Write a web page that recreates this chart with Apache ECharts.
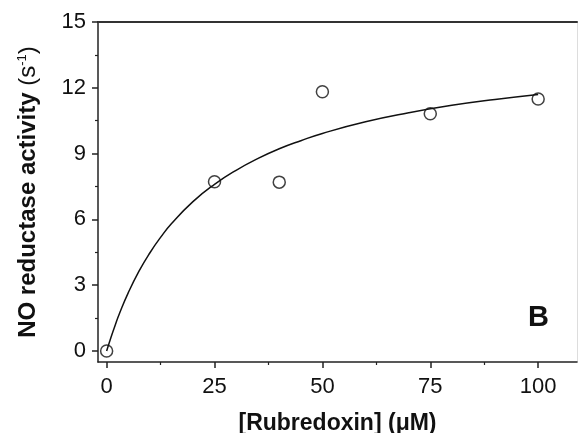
<!DOCTYPE html>
<html style="height: 100%">
<head>
    <meta charset="utf-8">
</head>
<body style="height: 100%; margin: 0; background: #fff">
<div id="container" style="width: 580px; height: 433px;"></div>

<script type="text/javascript" src="https://cdn.jsdelivr.net/npm/echarts@6/dist/echarts.min.js"></script>
<script type="text/javascript">
    // measured points
    var rubX = [0, 25, 40, 50, 75, 100];
    var activityY = [0, 7.72, 7.7, 11.82, 10.82, 11.49];

    // fitted curve
    var curveX = [0, 1, 2, 3, 5, 7.5, 10, 12.5, 15, 20, 25, 30, 35, 40, 45, 50, 60, 70, 80, 90, 100];
    var curveY = [0, 0.62, 1.19, 1.72, 2.65, 3.64, 4.47, 5.18, 5.8, 6.81, 7.6, 8.24, 8.77, 9.22, 9.59, 9.92, 10.45, 10.86, 11.2, 11.47, 11.7];

    var xMajor = [0, 25, 50, 75, 100];
    var xMinor = [12.5, 37.5, 62.5, 87.5];
    var yMajor = [0, 3, 6, 9, 12, 15];
    var yMinor = [1.5, 4.5, 7.5, 10.5, 13.5];

    var dom = document.getElementById("container");
    var myChart = echarts.init(dom);

    var font = 'Liberation Sans, Arial, sans-serif';
    var points = rubX.map(function (x, i) { return [x, activityY[i]]; });
    var curve = curveX.map(function (x, i) { return [x, curveY[i]]; });

    var option = {
        animation: false,
        grid: { left: 98, top: 22, right: 3, bottom: 71, containLabel: false, outerBoundsMode: 'none' },
        xAxis: [{
            type: 'value', min: -2, max: 109,
            splitLine: { show: false },
            axisLine: { onZero: false, lineStyle: { color: '#222', width: 1.5 } },
            axisTick: { length: 6, lineStyle: { color: '#222', width: 1.5 }, customValues: xMajor },
            axisLabel: { customValues: xMajor, fontSize: 22, color: '#111', fontFamily: font, margin: 14 },
            name: '[Rubredoxin] (\u03bcM)', nameLocation: 'middle', nameGap: 50,
            nameTextStyle: { fontSize: 23, fontWeight: 'bold', color: '#111', fontFamily: font }
        }, {
            type: 'value', min: -2, max: 109, position: 'bottom',
            splitLine: { show: false }, axisLine: { show: false, onZero: false },
            axisTick: { length: 3, lineStyle: { color: '#222', width: 1.2 }, customValues: xMinor },
            axisLabel: { show: false }
        }, {
            type: 'value', min: -2, max: 109, position: 'top',
            splitLine: { show: false },
            axisLine: { onZero: false, lineStyle: { color: '#333', width: 2 } },
            axisTick: { show: false }, axisLabel: { show: false }
        }],
        yAxis: [{
            type: 'value', min: -0.5, max: 15,
            splitLine: { show: false },
            axisLine: { onZero: false, lineStyle: { color: '#222', width: 1.5 } },
            axisTick: { length: 6, lineStyle: { color: '#222', width: 1.5 }, customValues: yMajor },
            axisLabel: { customValues: yMajor, fontSize: 22, color: '#111', fontFamily: font, margin: 12 },
            name: '{b|NO reductase activity }{r|(s}{sup|-1}{r|)}',
            nameLocation: 'middle', nameGap: 58, nameRotate: 90,
            nameTextStyle: {
                color: '#111', fontFamily: font,
                rich: {
                    b: { fontSize: 24, fontWeight: 'bold', fontFamily: font, color: '#111' },
                    r: { fontSize: 24, fontFamily: font, color: '#111' },
                    sup: { fontSize: 13, fontFamily: font, color: '#111', verticalAlign: 'top', padding: [0, 0, 10, 0] }
                }
            }
        }, {
            type: 'value', min: -0.5, max: 15, position: 'left',
            splitLine: { show: false }, axisLine: { show: false, onZero: false },
            axisTick: { length: 3, lineStyle: { color: '#222', width: 1.2 }, customValues: yMinor },
            axisLabel: { show: false }
        }, {
            type: 'value', min: -0.5, max: 15, position: 'right',
            splitLine: { show: false },
            axisLine: { onZero: false, lineStyle: { color: '#ddd', width: 1 } },
            axisTick: { show: false }, axisLabel: { show: false }
        }],
        graphic: [{
            type: 'text', left: 528, top: 303,
            style: { text: 'B', font: 'bold 29px ' + font, fill: '#111' }
        }],
        series: [{
            type: 'line',
            data: curve,
            smooth: true,
            symbol: 'none',
            lineStyle: { color: '#111', width: 1.5 },
            z: 3
        }, {
            type: 'scatter',
            data: points,
            symbol: 'circle',
            symbolSize: 12,
            itemStyle: { color: 'rgba(0,0,0,0)', borderColor: '#111', borderWidth: 1.5 },
            z: 2
        }]
    };

    myChart.setOption(option);
</script>
</body>
</html>
